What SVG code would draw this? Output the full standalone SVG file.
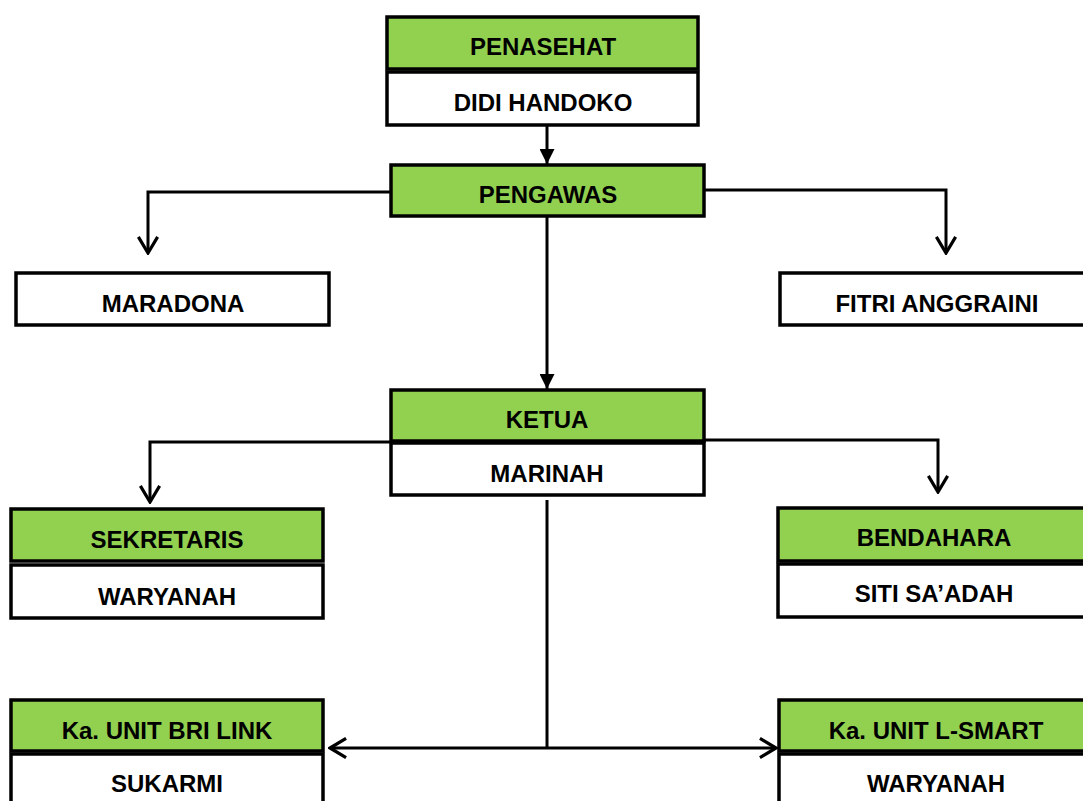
<svg xmlns="http://www.w3.org/2000/svg" width="1083" height="801" viewBox="0 0 1083 801">
<style>
.g{fill:#92D050;stroke:#000;stroke-width:3.5}
.w{fill:#fff;stroke:#000;stroke-width:3.5}
.t{font-family:"Liberation Sans",Arial,sans-serif;font-weight:bold;font-size:24px;fill:#000;text-anchor:middle}
.c{fill:none;stroke:#000;stroke-width:3}
</style>
<defs>
<marker id="filled" viewBox="0 0 10 10" refX="10" refY="5" markerWidth="5" markerHeight="5" orient="auto" markerUnits="strokeWidth">
<path d="M0,0 L10,5 L0,10 Z" fill="#000"/>
</marker>
<marker id="open" viewBox="0 0 12 14" refX="11" refY="7" markerWidth="6.5" markerHeight="7.5" orient="auto" markerUnits="strokeWidth">
<path d="M1,1 L11,7 L1,13" fill="none" stroke="#000" stroke-width="2"/>
</marker>
</defs>
<g id="connectors">
<line class="c" x1="547" y1="125" x2="547" y2="164" marker-end="url(#filled)"/>
<polyline class="c" points="390,192 148,192 148,253" marker-end="url(#open)"/>
<polyline class="c" points="705,190 946,190 946,253" marker-end="url(#open)"/>
<line class="c" x1="547" y1="217" x2="547" y2="389" marker-end="url(#filled)"/>
<polyline class="c" points="390,442 150,442 150,502" marker-end="url(#open)"/>
<polyline class="c" points="705,440 938,440 938,492" marker-end="url(#open)"/>
<line class="c" x1="547" y1="500" x2="547" y2="748"/>
<line class="c" x1="547" y1="748" x2="330" y2="748" marker-end="url(#open)"/>
<line class="c" x1="547" y1="748" x2="776" y2="748" marker-end="url(#open)"/>
</g>
<g id="penasehat">
<rect class="g" x="387" y="17" width="311" height="52"/>
<rect class="w" x="387" y="72" width="311" height="53"/>
<text class="t" x="543" y="55">PENASEHAT</text>
<text class="t" x="543" y="111">DIDI HANDOKO</text>
</g>
<g id="pengawas">
<rect class="g" x="391" y="165" width="313" height="51"/>
<text class="t" x="548" y="203">PENGAWAS</text>
</g>
<g id="maradona">
<rect class="w" x="16" y="273" width="313" height="52"/>
<text class="t" x="173" y="312">MARADONA</text>
</g>
<g id="fitri">
<rect class="w" x="780" y="273" width="310" height="52"/>
<text class="t" x="937" y="312">FITRI ANGGRAINI</text>
</g>
<g id="ketua">
<rect class="g" x="391" y="390" width="313" height="51"/>
<rect class="w" x="391" y="443" width="313" height="52"/>
<text class="t" x="547" y="428">KETUA</text>
<text class="t" x="547" y="482">MARINAH</text>
</g>
<g id="sekretaris">
<rect class="g" x="11" y="509" width="312" height="52"/>
<rect class="w" x="11" y="565" width="312" height="53"/>
<text class="t" x="167" y="548">SEKRETARIS</text>
<text class="t" x="167" y="605">WARYANAH</text>
</g>
<g id="bendahara">
<rect class="g" x="778" y="508" width="312" height="53"/>
<rect class="w" x="778" y="564" width="312" height="53"/>
<text class="t" x="934" y="546">BENDAHARA</text>
<text class="t" x="934" y="602">SITI SA’ADAH</text>
</g>
<g id="unit-bri-link">
<rect class="g" x="11" y="700" width="312" height="51"/>
<rect class="w" x="11" y="754" width="312" height="55"/>
<text class="t" x="167" y="739">Ka. UNIT BRI LINK</text>
<text class="t" x="167" y="792">SUKARMI</text>
</g>
<g id="unit-l-smart">
<rect class="g" x="779" y="700" width="311" height="51"/>
<rect class="w" x="779" y="754" width="311" height="55"/>
<text class="t" x="936" y="739">Ka. UNIT L-SMART</text>
<text class="t" x="936" y="792">WARYANAH</text>
</g>
</svg>
